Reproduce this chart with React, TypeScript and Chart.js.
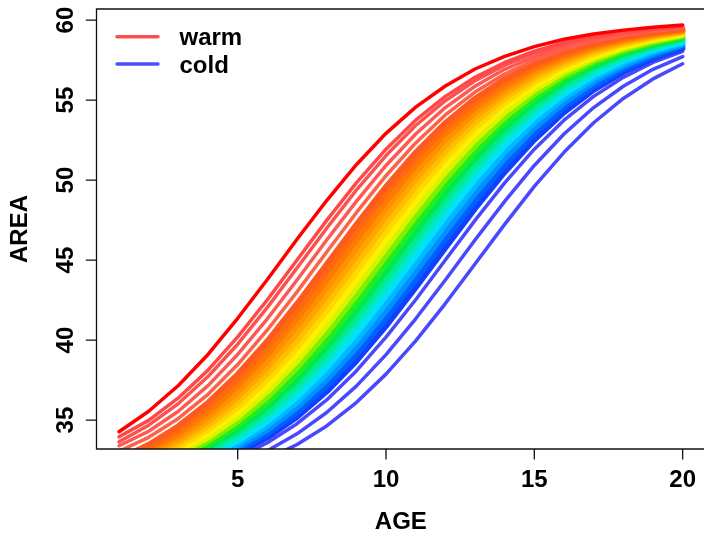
import React, { useEffect, useRef } from "react";
import { Chart, registerables } from "chart.js";

Chart.register(...registerables);

// ---- data ----
const ages = [1, 2, 3, 4, 5, 6, 7, 8, 9, 10, 11, 12, 13, 14, 15, 16, 17, 18, 19, 20];

const warm01 = [34.27, 35.55, 37.16, 39.1, 41.36, 43.78, 46.3, 48.72, 50.96, 52.92, 54.56, 55.88, 56.94, 57.73, 58.34, 58.8, 59.13, 59.37, 59.55, 59.69];
const warm02 = [33.95, 34.98, 36.38, 38.12, 40.2, 42.52, 45.0, 47.48, 49.82, 51.93, 53.74, 55.23, 56.42, 57.35, 58.05, 58.58, 58.97, 59.25, 59.46, 59.61];
const warm03 = [33.64, 34.68, 36.03, 37.72, 39.74, 42.04, 44.5, 46.99, 49.37, 51.53, 53.41, 54.96, 56.21, 57.18, 57.93, 58.48, 58.9, 59.2, 59.42, 59.59];
const warm04 = [33.39, 34.3, 35.55, 37.15, 39.1, 41.33, 43.75, 46.25, 48.67, 50.91, 52.88, 54.53, 55.86, 56.92, 57.72, 58.33, 58.79, 59.12, 59.36, 59.54];
const warm05 = [33.05, 33.92, 35.1, 36.61, 38.47, 40.63, 43.01, 45.5, 47.96, 50.27, 52.32, 54.07, 55.5, 56.63, 57.5, 58.17, 58.67, 59.03, 59.3, 59.49];
const mid06 = [32.57, 33.47, 34.63, 36.09, 37.87, 39.95, 42.28, 44.75, 47.23, 49.6, 51.73, 53.58, 55.1, 56.32, 57.27, 57.99, 58.53, 58.93, 59.23, 59.44];
const mid07 = [32.42, 33.27, 34.38, 35.78, 37.49, 39.52, 41.8, 44.25, 46.74, 49.14, 51.33, 53.23, 54.82, 56.1, 57.1, 57.86, 58.44, 58.86, 59.18, 59.4];
const mid08 = [32.28, 33.08, 34.14, 35.47, 37.12, 39.09, 41.33, 43.75, 46.25, 48.67, 50.91, 52.88, 54.53, 55.86, 56.92, 57.72, 58.33, 58.79, 59.12, 59.36];
const mid09 = [32.14, 32.9, 33.9, 35.18, 36.77, 38.67, 40.86, 43.26, 45.75, 48.2, 50.48, 52.51, 54.22, 55.62, 56.73, 57.58, 58.23, 58.71, 59.06, 59.32];
const mid10 = [32.01, 32.73, 33.68, 34.9, 36.42, 38.27, 40.4, 42.77, 45.25, 47.72, 50.05, 52.13, 53.91, 55.37, 56.53, 57.43, 58.11, 58.62, 59.0, 59.28];
const mid11 = [31.89, 32.57, 33.47, 34.63, 36.09, 37.87, 39.95, 42.28, 44.75, 47.23, 49.6, 51.73, 53.58, 55.1, 56.32, 57.27, 57.99, 58.53, 58.93, 59.23];
const mid12 = [31.77, 32.42, 33.27, 34.38, 35.78, 37.49, 39.52, 41.8, 44.25, 46.74, 49.14, 51.33, 53.23, 54.82, 56.1, 57.1, 57.86, 58.44, 58.86, 59.18];
const mid13 = [31.67, 32.28, 33.08, 34.14, 35.47, 37.12, 39.09, 41.33, 43.75, 46.25, 48.67, 50.91, 52.88, 54.53, 55.86, 56.92, 57.72, 58.33, 58.79, 59.12];
const mid14 = [31.56, 32.14, 32.9, 33.9, 35.18, 36.77, 38.67, 40.86, 43.26, 45.75, 48.2, 50.48, 52.51, 54.22, 55.62, 56.73, 57.58, 58.23, 58.71, 59.06];
const mid15 = [31.47, 32.01, 32.73, 33.68, 34.9, 36.42, 38.27, 40.4, 42.77, 45.25, 47.72, 50.05, 52.13, 53.91, 55.37, 56.53, 57.43, 58.11, 58.62, 59.0];
const mid16 = [31.38, 31.89, 32.57, 33.47, 34.63, 36.09, 37.87, 39.95, 42.28, 44.75, 47.23, 49.6, 51.73, 53.58, 55.1, 56.32, 57.27, 57.99, 58.53, 58.93];
const mid17 = [31.29, 31.77, 32.42, 33.27, 34.38, 35.78, 37.49, 39.52, 41.8, 44.25, 46.74, 49.14, 51.33, 53.23, 54.82, 56.1, 57.1, 57.86, 58.44, 58.86];
const mid18 = [31.21, 31.67, 32.28, 33.08, 34.14, 35.47, 37.12, 39.09, 41.33, 43.75, 46.25, 48.67, 50.91, 52.88, 54.53, 55.86, 56.92, 57.72, 58.33, 58.79];
const mid19 = [31.14, 31.56, 32.14, 32.9, 33.9, 35.18, 36.77, 38.67, 40.86, 43.26, 45.75, 48.2, 50.48, 52.51, 54.22, 55.62, 56.73, 57.58, 58.23, 58.71];
const mid20 = [31.07, 31.47, 32.01, 32.73, 33.68, 34.9, 36.42, 38.27, 40.4, 42.77, 45.25, 47.72, 50.05, 52.13, 53.91, 55.37, 56.53, 57.43, 58.11, 58.62];
const mid21 = [31.0, 31.38, 31.89, 32.57, 33.47, 34.63, 36.09, 37.87, 39.95, 42.28, 44.75, 47.23, 49.6, 51.73, 53.58, 55.1, 56.32, 57.27, 57.99, 58.53];
const mid22 = [30.94, 31.29, 31.77, 32.42, 33.27, 34.38, 35.78, 37.49, 39.52, 41.8, 44.25, 46.74, 49.14, 51.33, 53.23, 54.82, 56.1, 57.1, 57.86, 58.44];
const mid23 = [30.88, 31.21, 31.67, 32.28, 33.08, 34.14, 35.47, 37.12, 39.09, 41.33, 43.75, 46.25, 48.67, 50.91, 52.88, 54.53, 55.86, 56.92, 57.72, 58.33];
const mid24 = [30.82, 31.14, 31.56, 32.14, 32.9, 33.9, 35.18, 36.77, 38.67, 40.86, 43.26, 45.75, 48.2, 50.48, 52.51, 54.22, 55.62, 56.73, 57.58, 58.23];
const cold25 = [30.75, 31.03, 31.42, 31.95, 32.65, 33.58, 34.77, 36.26, 38.07, 40.18, 42.52, 45.0, 47.48, 49.82, 51.93, 53.74, 55.23, 56.42, 57.35, 58.05];
const cold26 = [30.64, 30.88, 31.21, 31.67, 32.28, 33.08, 34.14, 35.47, 37.12, 39.09, 41.33, 43.75, 46.25, 48.67, 50.91, 52.88, 54.53, 55.86, 56.92, 57.72];
const cold27 = [30.52, 30.72, 31.0, 31.38, 31.89, 32.57, 33.47, 34.63, 36.09, 37.87, 39.95, 42.28, 44.75, 47.23, 49.6, 51.73, 53.58, 55.1, 56.32, 57.27];

const curves = [
  warm01, warm02, warm03, warm04, warm05,
  mid06, mid07, mid08, mid09, mid10, mid11, mid12, mid13, mid14, mid15,
  mid16, mid17, mid18, mid19, mid20, mid21, mid22, mid23, mid24,
  cold25, cold26, cold27,
];

const xTicks = [5, 10, 15, 20];
const yTicks = [35, 40, 45, 50, 55, 60];
const legendLabels = ["warm", "cold"];
const xTitle = "AGE";
const yTitle = "AREA";

// ---- styles ----
const CURVE_COLORS = [
  "#FF0000", "#FF4848", "#FF5050", "#FF5850", "#FF6048",
  "#FF5A1E", "#FF6A10", "#FF7A00", "#FF9000", "#FFA500", "#FFBF00", "#FFD800", "#FFF000", "#D8F500", "#80F000",
  "#20EE20", "#00E850", "#00EA90", "#00E8C8", "#00E0FF", "#00B8FF", "#0090FF", "#0060FF", "#1040FF",
  "#4848FF", "#4848FF", "#4848FF",
];
const LEGEND_COLORS = ["#FF4D4D", "#4D4DFF"];
const FONT = 'bold 24px "Liberation Sans", Arial, Helvetica, sans-serif';

export default function App() {
  const ref = useRef<HTMLCanvasElement | null>(null);

  useEffect(() => {
    const canvas = ref.current;
    if (!canvas) return;

    const rAxes = {
      id: "rAxes",
      afterDraw(chart: any) {
        const { ctx, chartArea: ca, scales } = chart;
        const xs = scales.x;
        const ys = scales.y;
        ctx.save();
        // box
        ctx.strokeStyle = "#111";
        ctx.lineWidth = 1.3;
        ctx.beginPath();
        ctx.moveTo(ca.right + 4, ca.top);
        ctx.lineTo(ca.left, ca.top);
        ctx.lineTo(ca.left, ca.bottom);
        ctx.lineTo(ca.right + 4, ca.bottom);
        ctx.stroke();
        // ticks
        ctx.beginPath();
        for (const v of yTicks) {
          const py = ys.getPixelForValue(v);
          ctx.moveTo(ca.left, py);
          ctx.lineTo(ca.left - 10.7, py);
        }
        for (const v of xTicks) {
          const px = xs.getPixelForValue(v);
          ctx.moveTo(px, ca.bottom);
          ctx.lineTo(px, ca.bottom + 10.5);
        }
        ctx.stroke();
        // tick labels
        ctx.fillStyle = "#000";
        ctx.font = FONT;
        ctx.textAlign = "center";
        ctx.textBaseline = "alphabetic";
        for (const v of xTicks) {
          ctx.fillText(String(v), xs.getPixelForValue(v), 487);
        }
        for (const v of yTicks) {
          ctx.save();
          ctx.translate(72.5, ys.getPixelForValue(v));
          ctx.rotate(-Math.PI / 2);
          ctx.fillText(String(v), 0, 0);
          ctx.restore();
        }
        // titles
        ctx.fillText(xTitle, xs.getPixelForValue(10.5), 529);
        ctx.save();
        ctx.translate(27, (ca.top + ca.bottom) / 2);
        ctx.rotate(-Math.PI / 2);
        ctx.fillText(yTitle, 0, 0);
        ctx.restore();
        // legend
        ctx.textAlign = "left";
        legendLabels.forEach((lab, i) => {
          const ly = 36.7 + i * 27.3;
          ctx.strokeStyle = LEGEND_COLORS[i];
          ctx.lineWidth = 3.5;
          ctx.lineCap = "round";
          ctx.beginPath();
          ctx.moveTo(117, ly);
          ctx.lineTo(158, ly);
          ctx.stroke();
          ctx.fillStyle = "#000";
          ctx.fillText(lab, 179.5, ly + 8.5);
        });
        ctx.restore();
      },
    };

    const datasets = curves.map((c, i) => {
      const isBand = i >= 5 && i <= 23;
      return {
        label: "c" + (i + 1),
        data: ages.map((a, j) => ({ x: a, y: c[j] })),
        borderColor: CURVE_COLORS[i],
        borderWidth: isBand ? 5.5 : 3.5,
        pointRadius: 0,
        tension: 0,
        fill: false,
        clip: 0,
        borderCapStyle: "round" as const,
        borderJoinStyle: "round" as const,
      };
    });

    const chart = new Chart(canvas, {
      type: "line",
      data: { datasets },
      options: {
        responsive: false,
        animation: false,
        devicePixelRatio: 1,
        events: [],
        layout: { padding: { left: 96.5, top: 9, right: 0, bottom: 84 } },
        scales: {
          x: { type: "linear", min: 0.24, max: 20.72, display: false },
          y: { type: "linear", min: 33.19, max: 60.69, display: false },
        },
        plugins: {
          legend: { display: false },
          tooltip: { enabled: false },
          title: { display: false },
        },
      },
      plugins: [rAxes],
    });
    return () => chart.destroy();
  }, []);

  return (
    <div style={{ position: "fixed", left: 0, top: 0, width: 704, height: 533, background: "#fff", overflow: "hidden" }}>
      <canvas ref={ref} width={704} height={533} style={{ display: "block", width: 704, height: 533 }} />
    </div>
  );
}
